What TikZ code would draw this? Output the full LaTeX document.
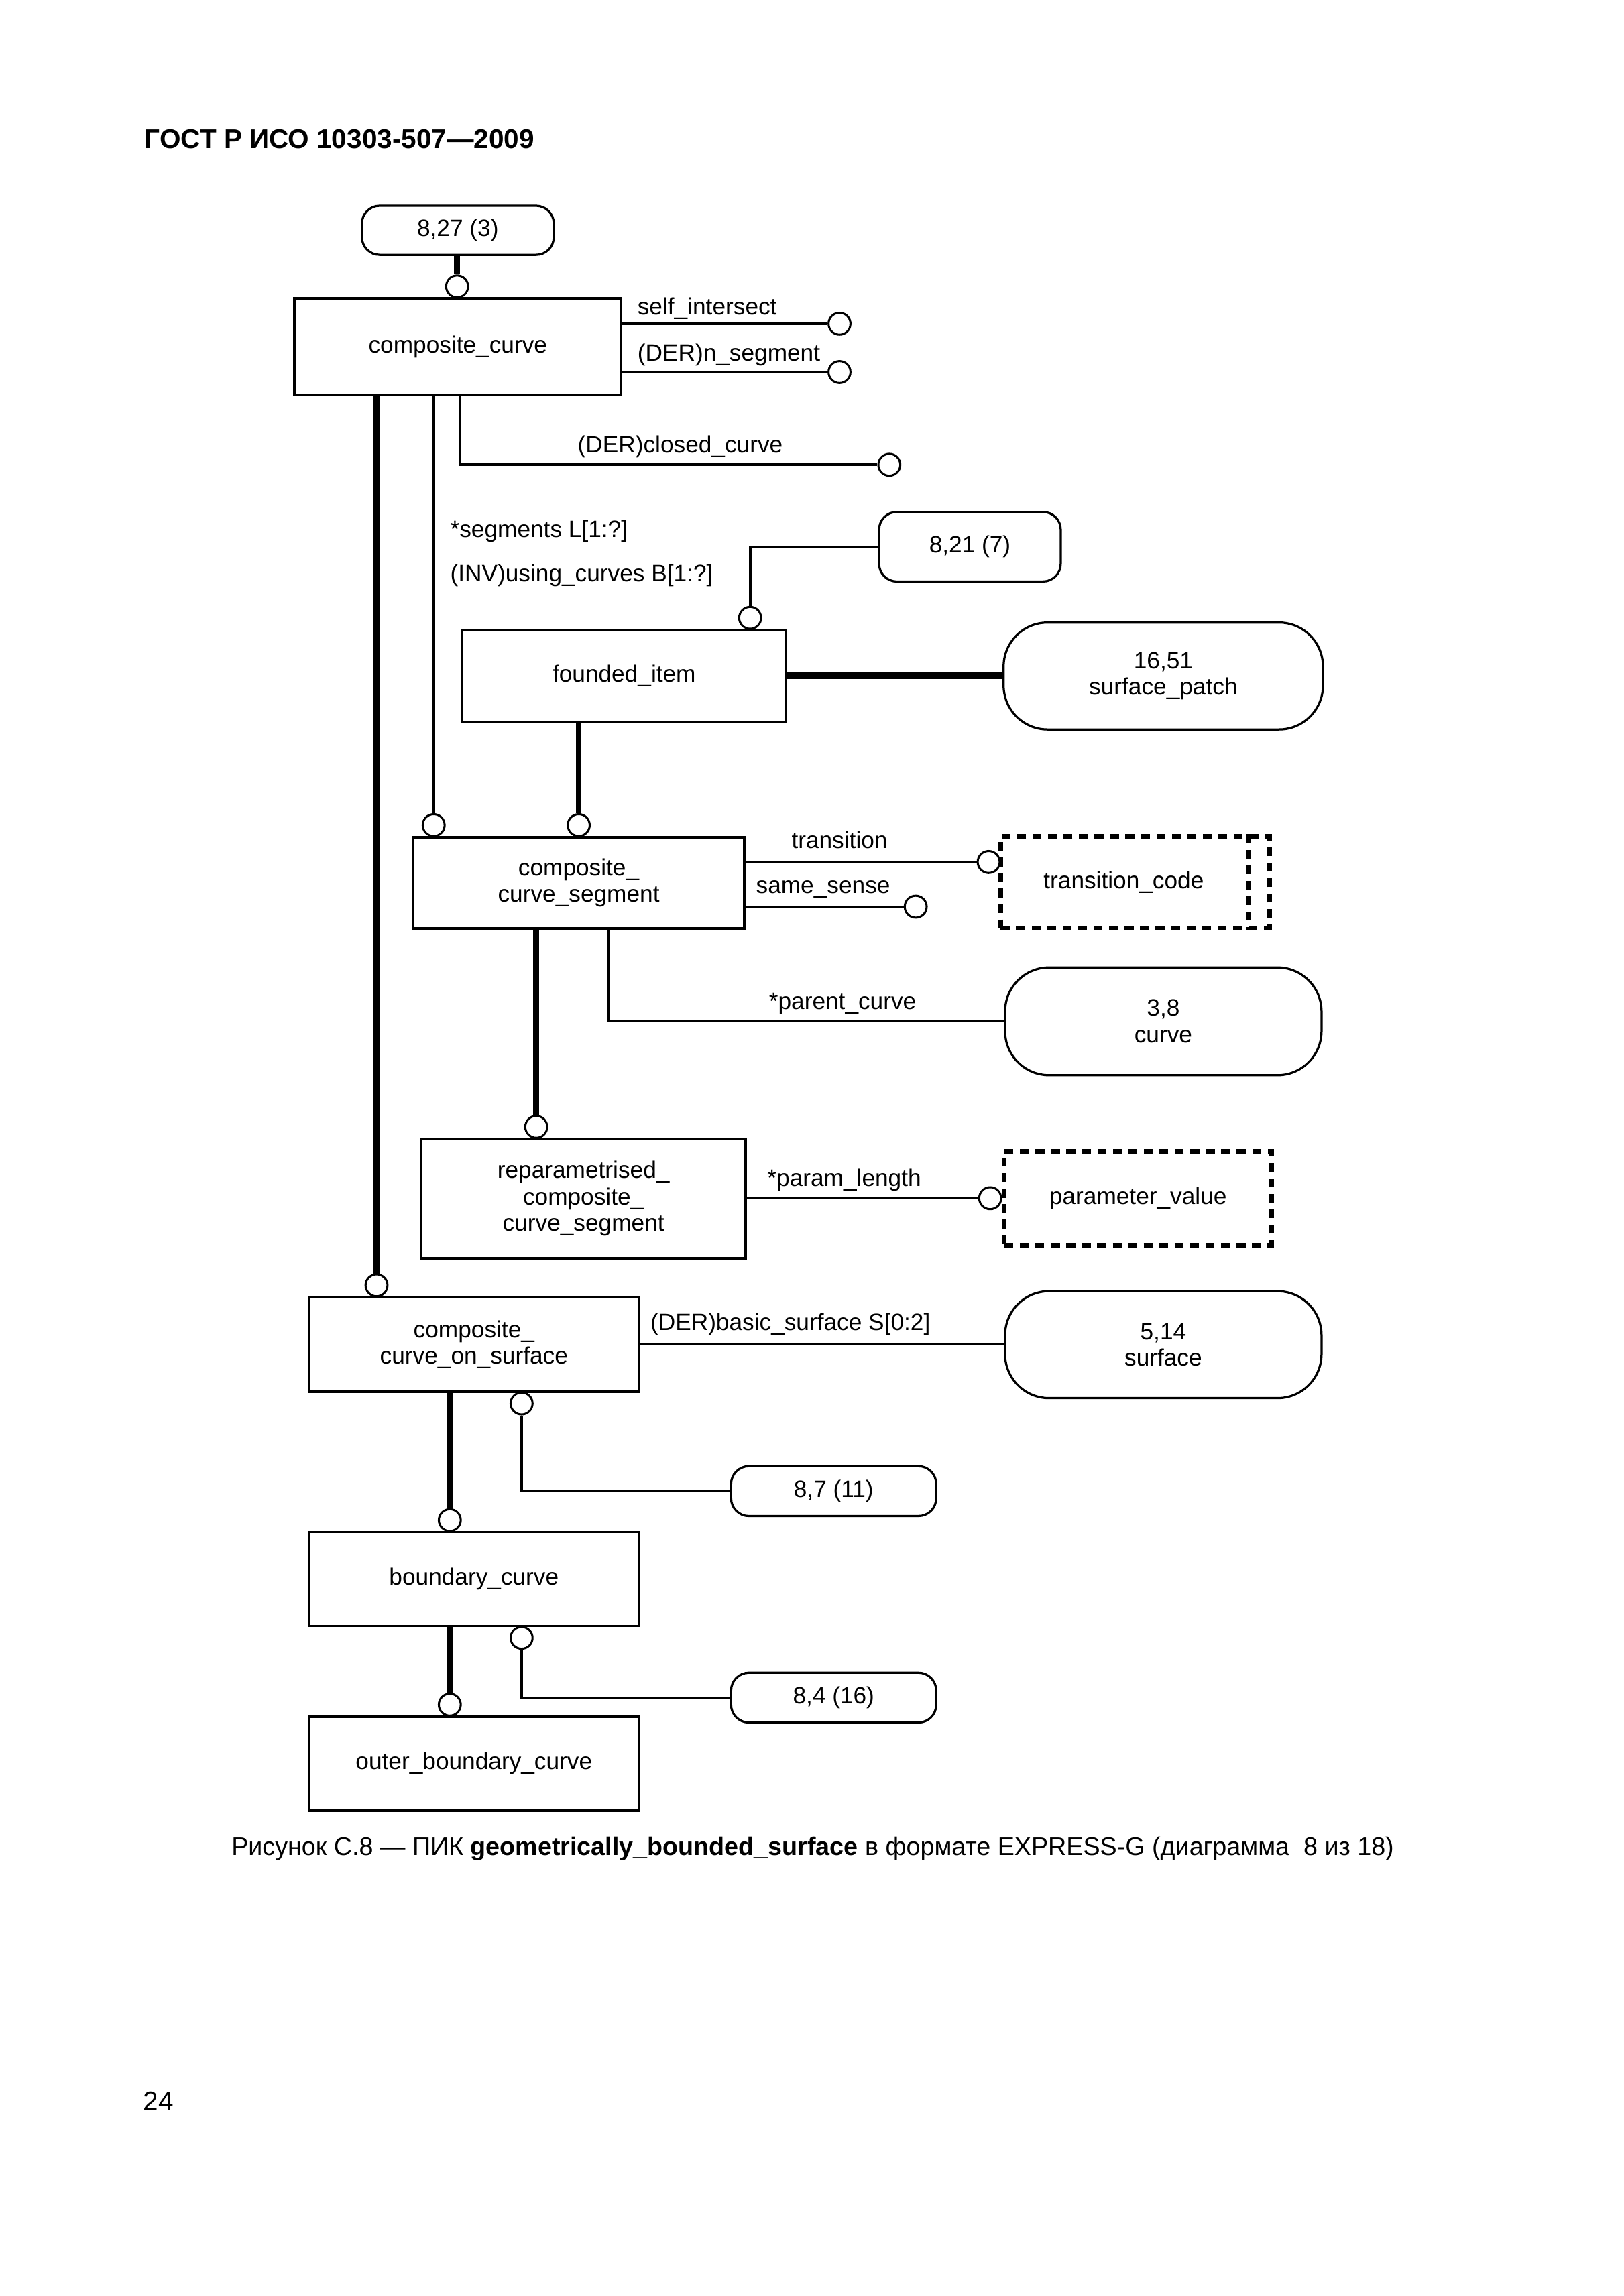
\documentclass[tikz,border=0pt]{standalone}
\usepackage{fontspec}
\setmainfont{Liberation Sans}
\usetikzlibrary{fit}
\newcommand\dfont{\fontsize{8.7}{9.7}\selectfont}
\begin{document}
\begin{tikzpicture}[x=0.18953mm, y=-0.18953mm,
  ent/.style={draw, rectangle, line width=0.9pt, inner sep=0pt},
  lab/.style={font=\dfont, align=center, inner sep=0pt},
  refbox/.style={ent, rounded corners=2.3mm, line width=0.8pt},
  ovalbox/.style={ent, rounded corners=5.7mm, line width=0.8pt},
  typbox/.style={ent, line width=1.6pt, dash pattern=on 3.3pt off 2.4pt},
  typline/.style={line width=1.6pt, dash pattern=on 3.3pt off 2.4pt},
  rc/.style={draw, circle, fill=white, line width=0.75pt, minimum size=2.84mm, inner sep=0pt},
  rel/.style={line width=0.95pt},
  sub/.style={line width=2.1pt},
  subb/.style={line width=2.5pt},
  lbl/.style={font=\dfont, inner sep=0pt, anchor=base west}]
\useasboundingbox (0,0) rectangle (1108,1567.5);

% header
\node[font=\bfseries\fontsize{10}{12}\selectfont, anchor=base west, inner sep=0pt] (hdr) at (98.4,101.5) {ГОСТ Р ИСО 10303-507—2009};

% composite_curve
\node[refbox, fit={(247,140.5)(378,174)}, label={[lab]center:{8,27 (3)}}] (n827) {};
\node[ent, fit={(201,203.7)(424,269.6)}, label={[lab]center:{composite\_curve}}] (cc) {};
\node[rc, anchor=south] (k0) at (312,203.7) {};
\draw[sub] (n827.south -| k0) -- (k0.north);

\node[rc] (ksi) at (573,221) {};
\draw[rel] (ksi.west -| cc.east) -- (ksi.west);
\node[lbl] (lsi) at (434.8,214.8) {self\_intersect};
\node[rc] (kns) at (573,254) {};
\draw[rel] (kns.west -| cc.east) -- (kns.west);
\node[lbl] (lns) at (434.8,246.3) {(DER)n\_segment};

\node[rc] (kcl) at (607,317.3) {};
\coordinate (acl) at (314,269.6);
\draw[rel] (acl) |- (kcl.west);
\node[lbl] (lcl) at (394,309) {(DER)closed\_curve};

% segments
\node[rc, anchor=south] (kseg) at (296,571.5) {};
\draw[rel] (kseg.north |- cc.south) -- (kseg.north);
\node[lbl] (lseg1) at (307,366.9) {*segments L[1:?]};
\node[lbl] (lseg2) at (307,397) {(INV)using\_curves B[1:?]};

% founded_item
\node[refbox, fit={(600,349.5)(724,397)}, label={[lab]center:{8,21 (7)}}] (n821) {};
\node[ent, fit={(315.5,430)(536.5,493)}, label={[lab]center:{founded\_item}}] (fi) {};
\node[rc, anchor=south] (kfi) at (512,430) {};
\draw[rel] (n821.west) -| (kfi.north);
\node[ovalbox, fit={(685,425)(903,498)}, label={[lab]center:{16,51\\surface\_patch}}] (sp) {};
\draw[subb] (fi.east) -- (sp.west);

% composite_curve_segment
\node[ent, fit={(282,571.5)(508,634)}, label={[lab]center:{composite\_\\curve\_segment}}] (ccs) {};
\node[rc, anchor=south] (kccs) at (395,571.5) {};
\draw[sub] (kccs.north |- fi.south) -- (kccs.north);

\node[typbox, fit={(683,571)(866.5,633.5)}] (tc) {};
\draw[typline] ([xshift=-2.94mm]tc.north east) -- ([xshift=-2.94mm]tc.south east);
\node[lab] (tct) at (767,602.3) {transition\_code};
\node[rc, anchor=east] (ktr) at (683,588.5) {};
\draw[rel] (ktr.west -| ccs.east) -- (ktr.west);
\node[lbl, anchor=base] (ltr) at (573,579) {transition};

\node[rc] (kss) at (625,619) {};
\draw[rel] (kss.west -| ccs.east) -- (kss.west);
\node[lbl] (lss) at (515.7,610) {same\_sense};

\node[ovalbox, fit={(686,660.5)(902,734)}, label={[lab]center:{3,8\\curve}}] (cv) {};
\coordinate (apc) at (415,634);
\draw[rel] (apc) |- (cv.west);
\node[lbl] (lpc) at (524.5,688.8) {*parent\_curve};

% reparametrised
\node[ent, fit={(287.5,777.5)(509,859)}, label={[lab]center:{reparametrised\_\\composite\_\\curve\_segment}}] (rp) {};
\node[rc, anchor=south] (krp) at (366,777.5) {};
\draw[sub] (krp.north |- ccs.south) -- (krp.north);
\node[typbox, fit={(685.5,786)(868,850)}, label={[lab]center:{parameter\_value}}] (pv) {};
\node[rc, anchor=east] (kpv) at (pv.west) {};
\draw[rel] (kpv.west -| rp.east) -- (kpv.west);
\node[lbl] (lpl) at (523.4,810) {*param\_length};

% composite_curve_on_surface
\node[ent, fit={(211,885.7)(436,950)}, label={[lab]center:{composite\_\\curve\_on\_surface}}] (ccos) {};
\node[rc, anchor=south] (kccos) at (257,885.7) {};
\draw[sub] (kccos.north |- cc.south) -- (kccos.north);
\node[ovalbox, fit={(686,881.5)(902,954.5)}, label={[lab]center:{5,14\\surface}}] (sf) {};
\draw[rel] (ccos.east) -- (ccos.east -| sf.west);
\node[lbl] (lbs) at (443.6,908.4) {(DER)basic\_surface S[0:2]};

\node[refbox, fit={(499,1001)(639,1035)}, label={[lab]center:{8,7 (11)}}] (n87) {};
\node[rc, anchor=north] (k87) at (356,950) {};
\draw[rel] (k87.south) |- (n87.west);

% boundary_curve
\node[ent, fit={(211,1046)(436,1110)}, label={[lab]center:{boundary\_curve}}] (bc) {};
\node[rc, anchor=south] (kbc) at (307,1046) {};
\draw[sub] (kbc.north |- ccos.south) -- (kbc.north);

\node[refbox, fit={(499,1142)(639,1176)}, label={[lab]center:{8,4 (16)}}] (n84) {};
\node[rc, anchor=north] (k84) at (356,1110) {};
\draw[rel] (k84.south) |- (n84.west);

% outer_boundary_curve
\node[ent, fit={(211,1172)(436,1236)}, label={[lab]center:{outer\_boundary\_curve}}] (obc) {};
\node[rc, anchor=south] (kobc) at (307,1172) {};
\draw[sub] (kobc.north |- bc.south) -- (kobc.north);

% caption and page number
\node[font=\fontsize{9.3}{11}\selectfont, anchor=base, inner sep=0pt] (cap) at (554.7,1266.5) {Рисунок С.8 — ПИК \textbf{geometrically\_bounded\_surface} в формате EXPRESS-G (диаграмма\ \ 8 из 18)};
\node[font=\fontsize{10}{12}\selectfont, anchor=base west, inner sep=0pt] (pg) at (97.5,1441) {24};
\end{tikzpicture}
\end{document}
